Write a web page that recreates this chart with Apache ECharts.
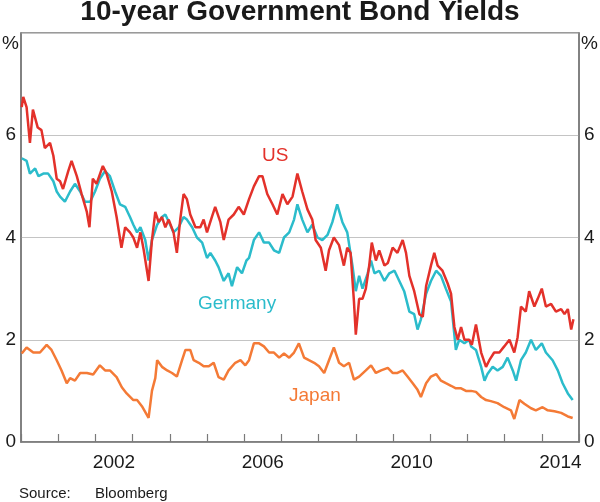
<!DOCTYPE html>
<html>
<head>
<meta charset="utf-8">
<script src="https://cdn.jsdelivr.net/npm/echarts@6/dist/echarts.min.js"></script>
<style>
html,body{margin:0;padding:0;background:#fff;}
#chart{width:600px;height:502px;}
</style>
</head>
<body>
<div id="chart"></div>
<script>
// Decimal year, yield (%)
const usData = [
 [2000.02,6.55],[2000.06,6.75],[2000.15,6.55],[2000.24,5.85],[2000.32,6.5],[2000.45,6.15],[2000.55,6.1],
 [2000.64,5.75],[2000.78,5.85],[2000.87,5.6],[2000.96,5.15],[2001.05,5.1],[2001.13,4.95],[2001.27,5.3],
 [2001.36,5.5],[2001.5,5.2],[2001.63,4.85],[2001.77,4.5],[2001.84,4.2],[2001.93,5.15],[2002.03,5.05],
 [2002.2,5.4],[2002.3,5.25],[2002.44,4.9],[2002.57,4.4],[2002.7,3.8],[2002.8,4.2],[2002.93,4.1],
 [2003.02,4.0],[2003.12,3.8],[2003.21,4.1],[2003.3,3.75],[2003.43,3.15],[2003.52,3.95],[2003.61,4.5],
 [2003.7,4.3],[2003.79,4.4],[2003.88,4.2],[2003.97,4.35],[2004.1,4.1],[2004.19,3.7],[2004.28,4.35],
 [2004.37,4.85],[2004.46,4.75],[2004.55,4.45],[2004.69,4.2],[2004.82,4.2],[2004.91,4.35],[2005.0,4.1],
 [2005.13,4.4],[2005.22,4.6],[2005.36,4.3],[2005.45,3.95],[2005.58,4.35],[2005.72,4.45],[2005.85,4.6],
 [2005.99,4.45],[2006.13,4.75],[2006.26,5.0],[2006.4,5.2],[2006.49,5.2],[2006.62,4.85],[2006.76,4.65],
 [2006.89,4.45],[2007.03,4.85],[2007.16,4.65],[2007.3,4.8],[2007.43,5.25],[2007.56,4.9],[2007.7,4.55],
 [2007.83,4.35],[2007.92,3.95],[2008.06,3.8],[2008.19,3.35],[2008.28,3.75],[2008.41,4.0],[2008.55,3.85],
 [2008.68,3.45],[2008.77,3.8],[2008.86,3.7],[2008.95,2.75],[2009.0,2.1],[2009.09,2.8],[2009.18,2.8],
 [2009.27,3.0],[2009.36,3.45],[2009.43,3.9],[2009.54,3.55],[2009.63,3.75],[2009.77,3.45],[2009.86,3.5],
 [2009.99,3.8],[2010.12,3.7],[2010.26,3.95],[2010.35,3.7],[2010.44,3.25],[2010.57,2.95],[2010.71,2.5],
 [2010.8,2.45],[2010.89,3.05],[2011.02,3.45],[2011.11,3.7],[2011.2,3.45],[2011.33,3.35],[2011.47,3.1],
 [2011.56,2.9],[2011.65,2.25],[2011.74,2.0],[2011.83,2.25],[2011.92,2.0],[2012.05,2.0],[2012.12,1.9],
 [2012.23,2.3],[2012.37,1.75],[2012.5,1.47],[2012.59,1.6],[2012.72,1.75],[2012.86,1.75],[2012.99,1.87],
 [2013.13,2.0],[2013.26,1.75],[2013.35,2.05],[2013.44,2.65],[2013.57,2.55],[2013.66,2.95],[2013.8,2.65],
 [2013.89,2.8],[2014.0,3.0],[2014.11,2.65],[2014.25,2.7],[2014.38,2.55],[2014.52,2.6],[2014.61,2.5],
 [2014.7,2.6],[2014.79,2.2],[2014.85,2.4]
];
const germanyData = [
 [2000.02,5.55],[2000.15,5.5],[2000.24,5.25],[2000.38,5.35],[2000.47,5.2],[2000.6,5.25],[2000.73,5.25],
 [2000.87,5.1],[2000.96,4.9],[2001.05,4.8],[2001.18,4.7],[2001.32,4.9],[2001.45,5.05],[2001.59,4.9],
 [2001.72,4.7],[2001.86,4.7],[2001.99,4.9],[2002.12,5.15],[2002.26,5.3],[2002.39,5.2],[2002.53,4.9],
 [2002.66,4.65],[2002.8,4.6],[2002.93,4.4],[2003.02,4.25],[2003.12,4.1],[2003.21,4.2],[2003.34,3.95],
 [2003.43,3.55],[2003.52,3.95],[2003.66,4.25],[2003.79,4.4],[2003.88,4.45],[2004.01,4.25],[2004.1,4.1],
 [2004.24,4.2],[2004.37,4.4],[2004.46,4.35],[2004.6,4.2],[2004.73,4.0],[2004.87,3.9],[2005.0,3.6],
 [2005.09,3.7],[2005.22,3.55],[2005.31,3.42],[2005.45,3.15],[2005.58,3.3],[2005.67,3.05],[2005.81,3.42],
 [2005.94,3.3],[2006.06,3.55],[2006.13,3.6],[2006.26,3.95],[2006.4,4.1],[2006.53,3.9],[2006.67,3.9],
 [2006.8,3.75],[2006.94,3.7],[2007.07,4.0],[2007.21,4.1],[2007.34,4.35],[2007.43,4.65],[2007.56,4.35],
 [2007.7,4.1],[2007.83,4.25],[2007.97,4.0],[2008.1,3.95],[2008.24,4.05],[2008.37,4.3],[2008.5,4.65],
 [2008.64,4.3],[2008.77,4.1],[2008.91,3.45],[2009.0,2.95],[2009.09,3.25],[2009.18,3.0],[2009.32,3.3],
 [2009.41,3.55],[2009.5,3.3],[2009.63,3.35],[2009.77,3.15],[2009.9,3.3],[2010.04,3.35],[2010.17,3.15],
 [2010.3,2.95],[2010.44,2.55],[2010.57,2.5],[2010.66,2.2],[2010.75,2.4],[2010.89,2.9],[2011.02,3.15],
 [2011.16,3.35],[2011.29,3.25],[2011.42,3.0],[2011.56,2.75],[2011.69,1.8],[2011.78,2.0],[2011.92,1.93],
 [2012.05,2.0],[2012.1,1.87],[2012.23,1.8],[2012.37,1.47],[2012.46,1.2],[2012.54,1.33],[2012.68,1.47],
 [2012.81,1.4],[2012.95,1.47],[2013.08,1.65],[2013.22,1.4],[2013.31,1.2],[2013.44,1.6],[2013.57,1.75],
 [2013.71,2.0],[2013.84,1.8],[2014.0,1.93],[2014.11,1.75],[2014.29,1.6],[2014.43,1.4],[2014.56,1.15],
 [2014.7,0.95],[2014.83,0.82]
];
const japanData = [
 [2000.02,1.73],[2000.15,1.85],[2000.33,1.75],[2000.51,1.75],[2000.69,1.9],[2000.82,1.8],[2000.96,1.6],
 [2001.09,1.4],[2001.23,1.15],[2001.32,1.25],[2001.45,1.2],[2001.59,1.35],[2001.77,1.35],[2001.94,1.32],
 [2002.12,1.5],[2002.26,1.4],[2002.39,1.4],[2002.57,1.27],[2002.71,1.07],[2002.84,0.95],[2003.02,0.82],
 [2003.12,0.82],[2003.25,0.7],[2003.43,0.47],[2003.52,1.0],[2003.61,1.25],[2003.66,1.6],[2003.79,1.47],
 [2003.93,1.4],[2004.06,1.35],[2004.19,1.28],[2004.33,1.6],[2004.42,1.8],[2004.55,1.8],[2004.64,1.6],
 [2004.78,1.55],[2004.91,1.48],[2005.05,1.48],[2005.18,1.55],[2005.31,1.27],[2005.45,1.22],[2005.58,1.4],
 [2005.76,1.55],[2005.9,1.6],[2006.03,1.5],[2006.13,1.6],[2006.26,1.93],[2006.4,1.93],[2006.53,1.87],
 [2006.67,1.75],[2006.8,1.75],[2006.94,1.65],[2007.07,1.73],[2007.21,1.65],[2007.34,1.75],[2007.47,1.93],
 [2007.61,1.65],[2007.74,1.6],[2007.88,1.55],[2008.01,1.48],[2008.15,1.35],[2008.28,1.6],[2008.41,1.85],
 [2008.55,1.55],[2008.68,1.48],[2008.82,1.55],[2008.95,1.22],[2009.09,1.28],[2009.27,1.4],[2009.41,1.5],
 [2009.54,1.35],[2009.68,1.4],[2009.86,1.45],[2009.99,1.35],[2010.12,1.35],[2010.26,1.4],[2010.39,1.28],
 [2010.53,1.15],[2010.66,1.02],[2010.75,0.88],[2010.89,1.15],[2011.02,1.28],[2011.16,1.33],[2011.29,1.2],
 [2011.42,1.15],[2011.56,1.1],[2011.69,1.05],[2011.83,1.05],[2011.96,1.0],[2012.1,1.0],[2012.23,0.98],
 [2012.37,0.88],[2012.5,0.82],[2012.63,0.8],[2012.81,0.76],[2012.99,0.68],[2013.17,0.62],[2013.26,0.45],
 [2013.4,0.82],[2013.53,0.75],[2013.71,0.66],[2013.84,0.62],[2014.02,0.68],[2014.16,0.62],[2014.34,0.6],
 [2014.52,0.57],[2014.7,0.5],[2014.83,0.47]
];
const yearLabels = [2002, 2006, 2010, 2014];
const yTicks = [0, 2, 4, 6];

const FONT = '"Liberation Sans", Arial, sans-serif';
const axisCol = '#7a7a7a';
const chart = echarts.init(document.getElementById('chart'));
const yAxisBase = {
  type: 'value', min: 0, max: 8, interval: 2,
  axisLine: { show: true, lineStyle: { color: axisCol, width: 1.5 } },
  axisTick: { show: false },
  axisLabel: {
    fontFamily: FONT, fontSize: 19, color: '#1a1a1a', margin: 5,
    formatter: v => yTicks.includes(v) ? String(v) : ''
  }
};
chart.setOption({
  animation: false,
  title: {
    text: '10-year Government Bond Yields', left: 'center', top: -2, padding: 0,
    textStyle: { fontFamily: FONT, fontSize: 28, fontWeight: 'bold', color: '#1a1a1a' }
  },
  grid: { left: 21, right: 21, top: 33, bottom: 60, show: true, borderColor: axisCol, borderWidth: 1.5 },
  xAxis: [
    {
      type: 'value', min: 2000, max: 2015, interval: 1,
      axisLine: { show: true, lineStyle: { color: axisCol, width: 1.5 } },
      axisTick: { show: true, inside: true, length: 8, lineStyle: { color: axisCol, width: 1.2 } },
      axisLabel: { show: false }, splitLine: { show: false }
    },
    {
      type: 'value', min: 2000, max: 2015, interval: 0.5, position: 'bottom',
      axisLine: { show: false }, axisTick: { show: false }, splitLine: { show: false },
      axisLabel: {
        fontFamily: FONT, fontSize: 19, color: '#1a1a1a', margin: 11,
        formatter: v => yearLabels.includes(v - 0.5) ? String(v - 0.5) : ''
      }
    }
  ],
  yAxis: [
    Object.assign({}, yAxisBase, { position: 'left', splitLine: { show: true, lineStyle: { color: '#c4c4c4', width: 1 } } }),
    Object.assign({}, yAxisBase, { position: 'right', splitLine: { show: false } })
  ],
  series: [
    { name: 'Japan', type: 'line', data: japanData, showSymbol: false, lineStyle: { color: '#f47a36', width: 2.5 }, z: 3 },
    { name: 'Germany', type: 'line', data: germanyData, showSymbol: false, lineStyle: { color: '#2bbccb', width: 2.5 }, z: 4 },
    { name: 'US', type: 'line', data: usData, showSymbol: false, lineStyle: { color: '#e3312a', width: 2.5 }, z: 5 }
  ],
  graphic: [
    { type: 'text', left: 2, top: 34, style: { text: '%', font: '19px ' + FONT, fill: '#1a1a1a' } },
    { type: 'text', right: 2, top: 34, style: { text: '%', font: '19px ' + FONT, fill: '#1a1a1a' } },
    { type: 'text', left: 262, top: 146, style: { text: 'US', font: '19px ' + FONT, fill: '#e3312a' } },
    { type: 'text', left: 198, top: 294, style: { text: 'Germany', font: '19px ' + FONT, fill: '#2bbccb' } },
    { type: 'text', left: 289, top: 386, style: { text: 'Japan', font: '19px ' + FONT, fill: '#f47a36' } },
    { type: 'text', left: 19, top: 486, style: { text: 'Source:', font: '15px ' + FONT, fill: '#1a1a1a' } },
    { type: 'text', left: 95, top: 486, style: { text: 'Bloomberg', font: '15px ' + FONT, fill: '#1a1a1a' } }
  ]
});
</script>
</body>
</html>
